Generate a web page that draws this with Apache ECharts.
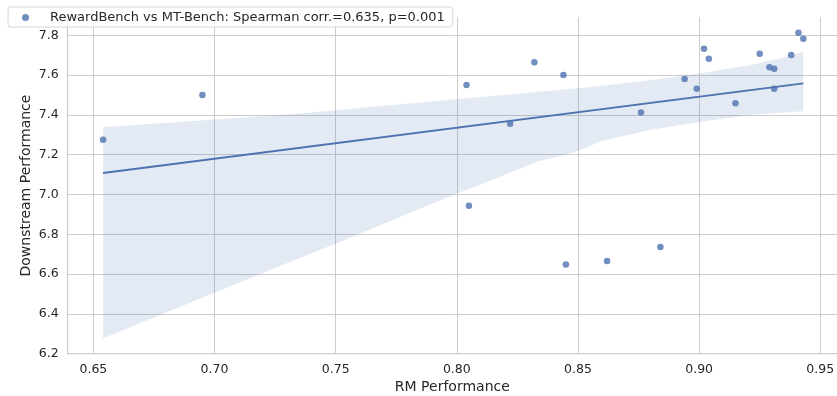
<!DOCTYPE html>
<html>
<head>
<meta charset="utf-8">
<style>
    html, body { margin: 0; padding: 0; background: #fff; }
    #chart { width: 837px; height: 396px; }
</style>
<script src="https://cdn.jsdelivr.net/npm/echarts@6.0.0/dist/echarts.min.js"></script>
</head>
<body>
<div id="chart"></div>
<script>
// RM performance (x) and MT-Bench downstream score (y), one entry per model
var rmScores = [0.654, 0.695, 0.804, 0.805, 0.822, 0.832, 0.844, 0.845, 0.862, 0.876, 0.884, 0.894,
    0.899, 0.902, 0.904, 0.915, 0.925, 0.929, 0.931, 0.931, 0.938, 0.941, 0.943];
var mtBench = [7.275, 7.50, 7.55, 6.944, 7.355, 7.664, 7.60, 6.648, 6.666, 7.412, 6.736, 7.58,
    7.531, 7.733, 7.682, 7.458, 7.707, 7.639, 7.632, 7.531, 7.701, 7.813, 7.783];

// regression line end points
var fitX = [0.654, 0.943];
var fitY = [7.108, 7.558];

// confidence band edges
var bandX = [0.654, 0.70, 0.731, 0.75, 0.78, 0.80, 0.81, 0.833, 0.849, 0.86, 0.88, 0.90, 0.921, 0.935, 0.943];
var bandHigh = [7.338, 7.377, 7.403, 7.424, 7.457, 7.479, 7.49, 7.515, 7.533, 7.547, 7.574, 7.608, 7.650, 7.689, 7.717];
var bandLow = [6.278, 6.506, 6.661, 6.753, 6.904, 7.005, 7.05, 7.165, 7.214, 7.27, 7.325, 7.364, 7.399, 7.412, 7.419];

var legendName = 'RewardBench vs MT-Bench: Spearman corr.=0.635, p=0.001';

var FONT = 'DejaVu Sans';
var BLUE = '#4c72b0';
var GRID = '#cccccc';
var TEXT = '#262626';

/**
 * zip two arrays into [x, y] pairs
 *
 * @param {number[]} xs x values
 * @param {number[]} ys y values
 * @return {Array} pairs
 */
function zip(xs, ys) {
    var out = [];
    for (var i = 0; i < xs.length; i++) {
        out.push([xs[i], ys[i]]);
    }
    return out;
}

var chart = echarts.init(document.getElementById('chart'), null, {renderer: 'canvas'});

chart.setOption({
    animation: false,
    backgroundColor: '#fff',
    grid: {
        left: 67.7,
        right: 0,
        top: 17.4,
        bottom: 42.3,
        containLabel: false,
        outerBoundsMode: 'none'
    },
    legend: {
        left: 8,
        top: 7,
        padding: [4, 8, 3, 14],
        backgroundColor: 'rgba(255,255,255,0.8)',
        borderColor: '#d6d6d6',
        borderWidth: 1,
        borderRadius: 3,
        icon: 'circle',
        itemWidth: 7,
        itemHeight: 7,
        data: [legendName],
        textStyle: {
            fontFamily: FONT,
            fontSize: 13,
            color: TEXT,
            padding: [0, 0, 0, 16]
        }
    },
    xAxis: {
        type: 'value',
        min: 0.6394,
        max: 0.9569,
        name: 'RM Performance',
        nameLocation: 'middle',
        nameGap: 26.5,
        nameMoveOverlap: false,
        nameTextStyle: {fontFamily: FONT, fontSize: 14, color: TEXT},
        axisLine: {show: true, lineStyle: {color: GRID, width: 1.25}},
        axisTick: {show: false},
        axisLabel: {
            margin: 10,
            fontFamily: FONT,
            fontSize: 12.5,
            color: TEXT,
            showMinLabel: false,
            showMaxLabel: false,
            formatter: function (v) {
                return v.toFixed(2);
            }
        },
        splitLine: {show: true, lineStyle: {color: GRID, width: 1}}
    },
    yAxis: {
        type: 'value',
        min: 6.2,
        max: 7.89,
        interval: 0.2,
        name: 'Downstream Performance',
        nameLocation: 'middle',
        nameGap: 34,
        nameMoveOverlap: false,
        nameTextStyle: {fontFamily: FONT, fontSize: 14, color: TEXT},
        axisLine: {show: true, lineStyle: {color: GRID, width: 1.25}},
        axisTick: {show: false},
        axisLabel: {
            margin: 9,
            fontFamily: FONT,
            fontSize: 12.5,
            color: TEXT,
            showMaxLabel: false,
            formatter: function (v) {
                return v.toFixed(1);
            }
        },
        splitLine: {show: true, showMaxLine: false, lineStyle: {color: GRID, width: 1}}
    },
    series: [
        {
            name: 'band',
            type: 'custom',
            silent: true,
            z: 1,
            data: [0],
            renderItem: function (params, api) {
                var pts = [];
                var i;
                for (i = 0; i < bandX.length; i++) {
                    pts.push(api.coord([bandX[i], bandHigh[i]]));
                }
                for (i = bandX.length - 1; i >= 0; i--) {
                    pts.push(api.coord([bandX[i], bandLow[i]]));
                }
                return {
                    type: 'polygon',
                    shape: {points: pts},
                    style: {fill: 'rgba(76,114,176,0.15)'}
                };
            }
        },
        {
            name: 'fit',
            type: 'line',
            z: 2,
            symbol: 'none',
            data: zip(fitX, fitY),
            lineStyle: {color: BLUE, width: 1.8}
        },
        {
            name: legendName,
            type: 'scatter',
            z: 3,
            symbolSize: 6.5,
            data: zip(rmScores, mtBench),
            itemStyle: {color: BLUE, opacity: 0.8}
        }
    ]
});
</script>
</body>
</html>
